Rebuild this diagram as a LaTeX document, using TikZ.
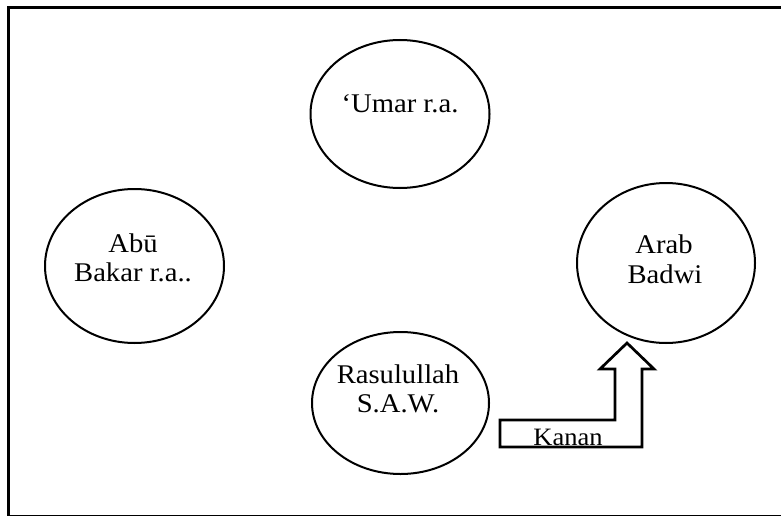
\documentclass[tikz,border=0pt]{standalone}
\usepackage{fontspec}
\setmainfont[FakeStretch=1.06]{Liberation Serif}
\usetikzlibrary{shapes.geometric}
\begin{document}
\begin{tikzpicture}[x=1pt,y=-1pt,
  circ/.style={draw,ellipse,line width=2pt,inner sep=0pt},
  lbl/.style={anchor=base,inner sep=0pt,font=\fontsize{27}{29}\selectfont},
  small/.style={anchor=base,inner sep=0pt,font=\fontsize{25}{27}\selectfont}]
\useasboundingbox (0,0) rectangle (781,516);
\draw[line width=3pt] (8,8) rectangle (785,516.8);
% ellipses
\node[circ,minimum width=179pt,minimum height=148pt] (umar) at (400,114) {};
\node[circ,minimum width=179pt,minimum height=154pt] (abu) at (134.5,266) {};
\node[circ,minimum width=178pt,minimum height=160pt] (arab) at (666,263) {};
\node[circ,minimum width=177pt,minimum height=142pt] (rasul) at (400.5,403) {};
% texts
\node[lbl] (umar-t) at (400,113) {‘Umar r.a.};
\node[lbl] (abu-t1) at (133,252) {Abū};
\node[lbl] (abu-t2) at (133,281) {Bakar r.a..};
\node[lbl] (arab-t1) at (664,253) {Arab};
\node[lbl] (arab-t2) at (665,283) {Badwi};
\node[lbl] (rasul-t1) at (398,383) {Rasulullah};
\node[lbl] (rasul-t2) at (398,412) {S.A.W.};
% block arrow
\draw[line width=2.7pt,line join=miter] (500,420) -- (615,420) -- (615,369) -- (600,369) -- (627,343) -- (654,369) -- (642,369) -- (642,447) -- (500,447) -- cycle;
\node[small] (kanan) at (568,445) {Kanan};
\end{tikzpicture}
\end{document}
